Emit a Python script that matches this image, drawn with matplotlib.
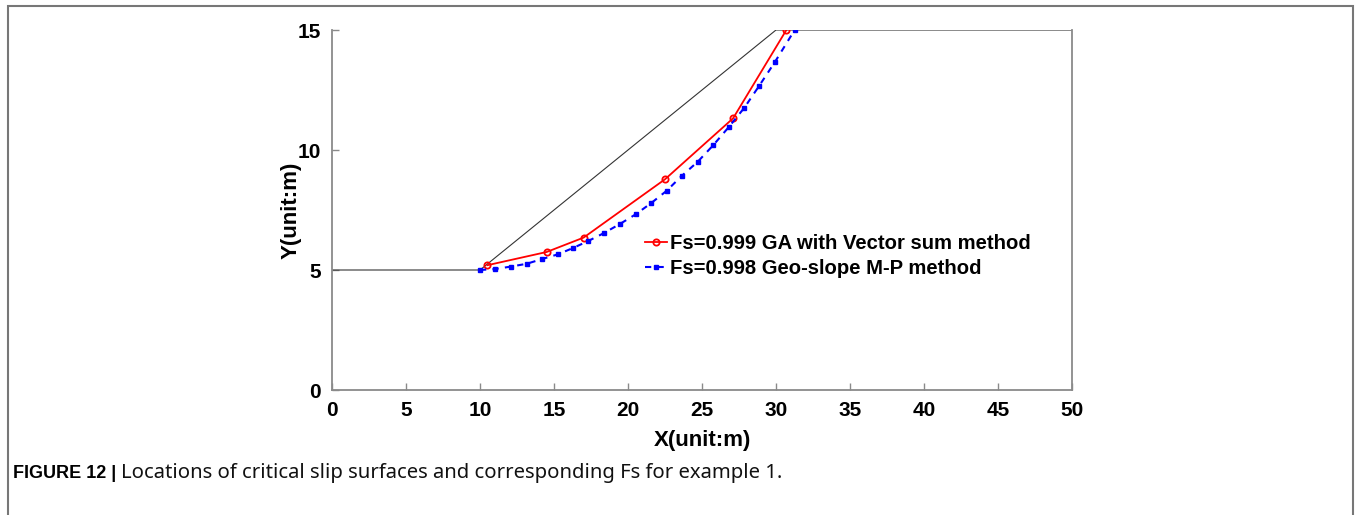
import matplotlib
matplotlib.use("Agg")
import matplotlib.pyplot as plt
from matplotlib.patches import Rectangle

plt.rcParams['font.family'] = ['Liberation Sans', 'DejaVu Sans']

# Slope profile
profile_x = [0, 10, 30, 50]
profile_y = [5, 5, 15, 15]

# GA with vector sum method
ga_x = [10.5, 14.5, 17.0, 22.5, 27.1, 30.7]
ga_y = [5.2, 5.75, 6.35, 8.78, 11.32, 15.0]

# Geo-slope M-P method
mp_x = [10.0, 11.0, 12.07, 13.16, 14.21, 15.25, 16.3, 17.32, 18.38, 19.46, 20.52,
        21.55, 22.61, 23.63, 24.71, 25.76, 26.8, 27.86, 28.87, 29.93, 31.26]
mp_y = [5.0, 5.04, 5.14, 5.26, 5.46, 5.65, 5.92, 6.21, 6.54, 6.92, 7.32,
        7.78, 8.3, 8.92, 9.51, 10.2, 10.95, 11.76, 12.68, 13.67, 15.0]

xticks = [0, 5, 10, 15, 20, 25, 30, 35, 40, 45, 50]
yticks = [0, 5, 10, 15]

W, H = 1356, 515
fig = plt.figure(figsize=(W / 100, H / 100), dpi=100)
ax = fig.add_axes([332 / W, 1 - 390 / H, (1072 - 332) / W, (390 - 30) / H])

ax.plot(profile_x, profile_y, color='#333333', lw=0.8)
ax.plot(ga_x, ga_y, color='red', lw=1.3, marker='o', ms=4.5, mfc='none', mew=1.3,
        label='Fs=0.999 GA with Vector sum method')
ax.plot(mp_x, mp_y, color='blue', lw=1.5, ls=(0, (3, 3)), marker='s', ms=3.2,
        label='Fs=0.998 Geo-slope M-P method')

ax.set_xlim(0, 50)
ax.set_ylim(0, 15)
ax.set_xticks(xticks)
ax.set_yticks(yticks)
for s in ['left', 'bottom', 'right']:
    ax.spines[s].set_color('#8a8a8a')
    ax.spines[s].set_linewidth(1.3)
ax.spines['top'].set_visible(False)
ax.tick_params(direction='in', length=5, width=1, color='#8a8a8a', labelsize=15, pad=8)
for lab in ax.get_xticklabels() + ax.get_yticklabels():
    lab.set_fontweight('bold')
ax.set_xlabel('X(unit:m)', fontsize=16, fontweight='bold', labelpad=7)
ax.set_ylabel('Y(unit:m)', fontsize=16, fontweight='bold', labelpad=-3)

leg = ax.legend(loc='upper left', bbox_to_anchor=(0.4225, 0.433), frameon=False,
                prop={'weight': 'bold', 'size': 14.6}, handlelength=1.1, handletextpad=0.15,
                labelspacing=0.3, borderaxespad=0, borderpad=0)

# outer frame
fig.patches.append(Rectangle((8 / W, -0.01), (1353 - 8) / W, 1 - 6 / H + 0.01,
                             transform=fig.transFigure, fill=False, ec='#777777', lw=1.5))

t1 = fig.text(13 / W, 1 - 473 / H, 'FIGURE 12 | ', fontsize=13, fontweight='bold', va='center')
fig.canvas.draw()
bb = t1.get_window_extent()
fig.text(bb.x1 / W, 1 - 473 / H, 'Locations of critical slip surfaces and corresponding Fs for example 1.',
         fontsize=14.6, va='center', color='#111111', family=['Noto Sans', 'DejaVu Sans'])

fig.savefig('out.png', dpi=100)
